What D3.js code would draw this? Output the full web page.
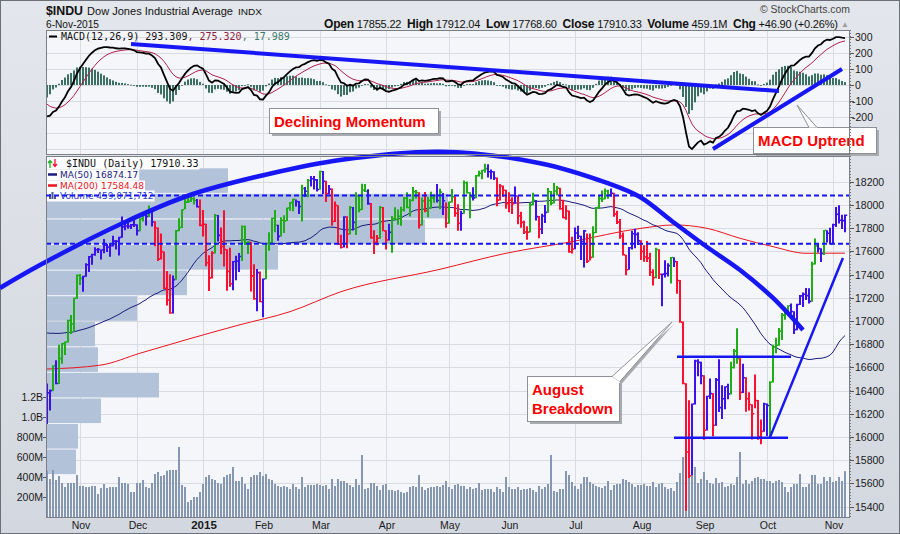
<!DOCTYPE html>
<html><head><meta charset="utf-8"><title>$INDU</title>
<script src="https://cdn.jsdelivr.net/npm/d3@7/dist/d3.min.js"></script>
<style>html,body{margin:0;padding:0;background:#dde1e7;}svg{display:block;}text{white-space:pre;}</style>
</head><body>
<svg id="chart" width="900" height="534" xmlns="http://www.w3.org/2000/svg"></svg>
<script>
// ---------- DATA ----------
// closes before the visible window (Aug 1 - Oct 16, 2014) used to warm up MA(50)/MACD
const warmupCloses = [16493,16569,16430,16443,16368,16554,16570,16561,16651,16713,16663,16839,16920,16979,17040,17001,17077,17107,17123,17080,17098,
17067,17078,17069,17138,17111,17014,17068,17049,16988,17031,17131,17156,17266,17280,17173,17056,17211,16946,17113,17071,17043,
16804,16801,17009,16991,16719,16994,16659,16544,16321,16315,16142,16117];

// visible trading days Oct 17, 2014 .. Nov 6, 2015
const closes = [
16380,16400,16615,16461,16677,16805,16818,17005,16974,17195,17391,
17366,17384,17484,17554,17573,17613,17615,17612,17652,17635,17648,17688,17686,17720,17810,17818,17815,17828,17828,
17777,17880,17913,17901,17959,17853,17801,17533,17597,17281,17180,17068,17356,17778,17805,17959,18024,18030,18053,18038,17983,17823,
17833,17501,17371,17585,17908,17737,17641,17614,17427,17320,17512,17515,17555,17814,17673,17679,17388,17191,17416,17165,
17361,17667,17673,17885,17825,17729,17868,17862,17973,18019,18047,18029,17986,18141,18117,18210,18225,18215,18133,
18288,18204,18097,18136,17857,17996,17662,17635,17896,17749,17977,17849,18076,17959,18128,18116,18011,17718,17678,17713,17977,17776,
17698,17763,17880,17875,17902,17958,18057,17977,18037,18113,18106,17826,18034,17950,18038,18058,18080,18038,18110,18035,17841,
18024,18070,17928,17842,17925,18191,18105,18068,18060,18252,18272,18298,18312,18285,18285,18232,18041,18163,18126,18011,
18040,18011,18076,17905,17849,17766,17765,18000,18039,17899,17791,17904,17935,18115,18015,18120,18144,17967,17890,17947,17596,17620,
17758,17730,17684,17776,17515,17548,17760,17977,18054,18051,18120,18086,18100,17920,17851,17732,17569,17441,17630,17751,17746,17690,
17598,17551,17541,17419,17373,17615,17402,17403,17409,17477,17546,17512,17349,16990,16460,15871,15666,16285,16655,16643,16528,
16058,16351,16374,16102,16492,16253,16330,16433,16370,16599,16740,16675,16385,16511,16330,16280,16201,16315,16001,16049,16285,
16272,16472,16777,16790,16912,17050,17084,17131,17082,16925,17142,17216,17230,17218,17169,17490,17647,17623,17582,17780,17756,17664,
17829,17919,17868,17864,17910];

const highs = [
16457,16406,16615,16658,16790,16806,16818,17005,17047,17196,17395,
17400,17384,17493,17555,17575,17630,17625,17612,17701,17659,17667,17730,17692,17720,17895,17841,17845,17830,17895,
17828,17880,17923,17914,17991,17959,17854,17801,17750,17595,17427,17399,17387,17779,17881,17959,18086,18069,18103,18061,18047,18043,
17951,17833,17562,17597,17916,17908,17800,17950,17613,17626,17512,17557,17582,17818,17815,17683,17678,17484,17443,17422,
17362,17667,17760,17885,17951,17825,17890,17906,17973,18020,18049,18041,18029,18168,18149,18219,18244,18245,18218,
18289,18288,18203,18167,18137,18024,17993,17738,17898,17897,17986,17977,18105,18071,18177,18176,18130,18011,17778,17736,17987,17977,
17776,17832,17900,17975,17955,17979,18064,18105,18046,18149,18123,18105,18059,18107,18066,18109,18083,18175,18134,18098,18017,
18025,18133,18070,18002,17946,18205,18197,18104,18148,18254,18290,18299,18351,18345,18300,18286,18232,18175,18163,18126,
18104,18061,18155,18076,17937,17858,17812,18016,18100,18038,17899,17920,17994,18140,18116,18185,18158,18144,18040,17993,17947,17722,
17800,17815,17730,17780,17748,17748,17811,17978,18076,18119,18137,18125,18137,18101,17946,17874,17757,17566,17633,17772,17790,17760,
17690,17647,17685,17584,17440,17626,17614,17404,17519,17493,17546,17545,17512,17349,16990,16460,16312,16285,16662,16666,16644,
16528,16351,16500,16374,16505,16665,16442,16434,16454,16644,16755,16933,16674,16627,16510,16381,16279,16534,16315,16147,16290,
16285,16477,16790,16850,16935,17065,17113,17131,17145,17080,17143,17220,17240,17279,17278,17506,17707,17658,17623,17780,17778,17799,
17833,17977,17992,17911,17912];

const lows = [
16117,16232,16400,16458,16462,16636,16710,16818,16891,16911,17195,
17313,17255,17385,17425,17489,17566,17590,17534,17588,17599,17557,17645,17619,17568,17720,17786,17799,17796,17814,
17740,17777,17860,17826,17899,17817,17648,17520,17534,17280,17138,17067,17068,17359,17778,17806,17966,18021,18030,18008,17982,17820,
17731,17476,17262,17371,17585,17688,17579,17474,17264,17298,17269,17354,17427,17521,17659,17581,17259,17187,17087,17165,
17037,17363,17608,17673,17768,17695,17731,17761,17865,17953,17950,17990,17925,17860,18072,18070,18162,18136,18120,
18134,18098,18030,18096,17824,17856,17660,17628,17636,17630,17748,17783,17744,17940,17960,18115,18005,17712,17580,17657,17713,17776,
17620,17698,17592,17875,17832,17824,17948,17976,17905,18036,18057,17800,17827,17940,17897,17972,18022,18025,17966,17918,17808,
17842,18024,17902,17781,17782,17927,18103,17890,18042,18062,18248,18224,18281,18240,18226,18218,17993,18041,18074,17971,
17941,17926,18014,17838,17807,17753,17704,17766,18002,17869,17716,17754,17848,17936,18000,18017,18085,17962,17890,17876,17592,17585,
17621,17710,17529,17465,17504,17526,17549,17761,17968,18028,18052,18057,18075,17901,17840,17712,17568,17399,17445,17620,17630,17658,
17529,17515,17513,17392,17309,17373,17365,17130,17379,17387,17327,17469,17239,16988,16459,15370,15651,15676,16285,16528,16460,
15980,16061,16331,16011,16102,16220,16160,16244,16330,16371,16595,16636,16324,16384,16221,16233,15982,16253,15981,15942,16049,
16013,16013,16473,16727,16790,16840,17014,17056,17067,16892,16925,17141,17124,17184,17155,17169,17491,17593,17513,17572,17681,17663,
17664,17813,17844,17797,17768];

// daily volume, millions
const volumes = [
463,380,470,370,410,340,300,340,340,340,420,
310,310,300,300,310,310,230,290,330,290,300,300,300,400,340,340,330,250,250,
340,340,370,300,290,340,430,450,410,420,463,470,470,470,700,320,300,150,170,200,200,250,
330,400,420,380,370,340,330,400,420,430,500,360,360,400,330,280,400,420,420,450,
410,430,380,370,330,310,300,310,300,280,330,300,280,400,300,320,320,320,330,
320,310,320,280,380,310,380,360,360,340,320,300,380,320,620,280,290,340,340,310,270,320,
330,270,270,260,270,250,240,250,300,310,300,420,300,270,290,300,300,310,300,320,360,
300,280,320,330,310,310,280,300,280,290,340,270,280,280,280,250,300,280,250,400,
300,280,280,300,270,280,280,290,270,250,310,280,300,330,620,260,250,280,280,460,420,350,
310,280,330,400,400,350,330,310,300,290,310,360,270,320,330,330,380,370,350,330,300,320,
320,330,310,310,350,300,330,340,300,280,290,260,350,440,600,820,600,580,500,340,380,
450,370,340,330,390,340,350,300,310,330,320,400,650,330,370,330,360,390,400,380,380,
360,360,340,360,370,350,300,250,300,330,330,430,300,300,330,420,420,330,330,400,360,400,
350,360,400,360,459];

// month tick labels and the trading-day index where each month starts
const monthLabels = ["Nov","Dec","2015","Feb","Mar","Apr","May","Jun","Jul","Aug","Sep","Oct","Nov"];
const monthStartIdx = [11,30,52,72,91,113,134,154,176,198,219,240,262];

// MA(200) at sample days
const ma200Idx = [0,18,31,48,64,81,98,131,153,175,198,209,220,231,242,253,266];
const ma200Val = [16586,16620,16722,16850,16965,17080,17252,17445,17583,17683,17798,17827,17798,17712,17640,17583,17584];

// volume-by-price zones (bottom price of each zone) and relative volume
const vbpLow = [15676,15896,16116,16337,16557,16777,16997,17218,17438,17658,17879,18099];
const vbpVol = [300,320,550,1130,520,490,910,1410,2320,3790,4020,1820];
const vbpStep = 220.2;

// axis ticks
const priceTicks = [15400,15600,15800,16000,16200,16400,16600,16800,17000,17200,17400,17600,17800,18000,18200];
const macdTicks = [300,200,100,0,-100,-200];
const volTicks = [200,400,600,800,1000,1200];
const volTickLabels = ["200M","400M","600M","800M","1.0B","1.2B"];

// annotations (data coordinates: trading-day index, value)
const arcIdx = [-15.67,-2.33,25.33,47.67,75.33,97.67,131,164.33,186.67,197.67,208.67,220,231,242,252];
const arcVal = [17284,17482,17844,18085,18275,18387,18458,18359,18189,18068,17853,17637,17439,17198,16922];
const levelsDashed = [18080,17665];
const boxTop = {i0:210,i1:248,v:16692}, boxBot = {i0:209,i1:247,v:15994};
const upTrend = {i0:241,v0:15999,i1:265.3,v1:17543};
const macdDown = {i0:28,v0:256,i1:244,v1:-37.5};
const macdUp = {i0:222,v0:-400,i1:265,v1:100};

// ---------- INDICATORS ----------
const all = warmupCloses.concat(closes);
const W = warmupCloses.length;
function ema(arr,nP){const a=2/(nP+1);let e=arr[0];return arr.map((v,k)=>{e=k===0?v:a*v+(1-a)*e;return e;});}
const e12=ema(all,12), e26=ema(all,26), e13=ema(all,13);
const macdAll=all.map((v,k)=>e12[k]-e26[k]);
const sigAll=ema(macdAll,9);
const histAll=macdAll.map((v,k)=>v-sigAll[k]);
const ma50=closes.map((c,i)=>d3.mean(all.slice(W+i-49,W+i+1)));

// ---------- LAYOUT ----------
const svg=d3.select("#chart");
const SANS='"Liberation Sans", Arial, sans-serif', VER='"DejaVu Sans", Verdana, sans-serif', MONO='"DejaVu Sans Mono", monospace';
const L=46,R=850,MT=30,MB=155,PT=156,PB=517;
const n=closes.length;
const x=d3.scaleLinear().domain([-1/3,n+2/3]).range([L,R]);
const yP=d3.scaleLinear().domain([15311,18421]).range([PB,PT]);
const yV=d3.scaleLinear().domain([0,3610]).range([PB,PT]);
const yM=d3.scaleLinear().domain([-437.5,343.75]).range([MB,MT]);
const vbpX=d3.scaleLinear().domain([0,8040]).range([0,R-L]);

const defs=svg.append("defs");
const grad=defs.append("linearGradient").attr("id","bg").attr("x1",0).attr("y1",0).attr("x2",0).attr("y2",1);
grad.append("stop").attr("offset","0%").attr("stop-color","#e3e6eb");
grad.append("stop").attr("offset","100%").attr("stop-color","#d3d7df");
defs.append("clipPath").attr("id","clipM").append("rect").attr("x",L).attr("y",MT).attr("width",R-L).attr("height",MB-MT);
defs.append("clipPath").attr("id","clipP").append("rect").attr("x",L).attr("y",PT).attr("width",R-L).attr("height",PB-PT);

svg.append("rect").attr("width",900).attr("height",534).attr("fill","url(#bg)");
svg.append("rect").attr("x",0.5).attr("y",0.5).attr("width",899).attr("height",533).attr("fill","none").attr("stroke","#6b7078");

// panels
svg.append("rect").attr("x",L).attr("y",MT).attr("width",R-L).attr("height",MB-MT).attr("fill","#f5f6fa");
svg.append("rect").attr("x",L).attr("y",PT).attr("width",R-L).attr("height",PB-PT).attr("fill","#f5f6fa");

const GRID="#d8dbe2";
const gM=svg.append("g").attr("clip-path","url(#clipM)");
gM.selectAll("line.h").data(d3.range(-400,301,100)).join("line")
  .attr("x1",L).attr("x2",R).attr("y1",d=>Math.round(yM(d))+0.5).attr("y2",d=>Math.round(yM(d))+0.5).attr("stroke",GRID);
gM.selectAll("line.v").data(monthStartIdx).join("line").attr("class","v")
  .attr("x1",d=>x(d)+0.5).attr("x2",d=>x(d)+0.5).attr("y1",MT).attr("y2",MB).attr("stroke",GRID);
const gPg=svg.append("g").attr("clip-path","url(#clipP)");
gPg.selectAll("line.h").data(priceTicks).join("line").attr("class","h")
  .attr("x1",L).attr("x2",R).attr("y1",d=>Math.round(yP(d))+0.5).attr("y2",d=>Math.round(yP(d))+0.5).attr("stroke",GRID);
gPg.selectAll("line.v").data(monthStartIdx).join("line").attr("class","v")
  .attr("x1",d=>x(d)+0.5).attr("x2",d=>x(d)+0.5).attr("y1",PT).attr("y2",PB).attr("stroke",GRID);

// ---------- MACD PANEL ----------
const gMac=svg.append("g").attr("clip-path","url(#clipM)");
gMac.selectAll("rect.h").data(closes.map((c,i)=>i)).join("rect")
  .attr("x",i=>x(i)-1).attr("width",2)
  .attr("y",i=>Math.min(yM(0),yM(histAll[W+i])))
  .attr("height",i=>Math.max(0.8,Math.abs(yM(histAll[W+i])-yM(0))))
  .attr("fill","#3a6f61");
const lineM=d3.line().x((d,i)=>x(i)).y(d=>yM(d));
gMac.append("path").attr("d",lineM(sigAll.slice(W))).attr("fill","none").attr("stroke","#b0214c").attr("stroke-width",1);
gMac.append("path").attr("d",lineM(macdAll.slice(W))).attr("fill","none").attr("stroke","#000").attr("stroke-width",1.8);

// ---------- PRICE PANEL ----------
const gPr=svg.append("g").attr("clip-path","url(#clipP)");
gPr.selectAll("rect.vbp").data(vbpVol).join("rect")
  .attr("x",L).attr("width",d=>vbpX(d))
  .attr("y",(d,k)=>yP(vbpLow[k]+vbpStep)+0.5)
  .attr("height",(d,k)=>yP(vbpLow[k])-yP(vbpLow[k]+vbpStep)-1)
  .attr("fill","#b1c2d9");
gPr.selectAll("rect.vol").data(volumes).join("rect")
  .attr("x",(d,i)=>x(i)-1).attr("width",2)
  .attr("y",d=>yV(d)).attr("height",d=>PB-yV(d)).attr("fill","#8597b1");
const ma200Line=d3.line().curve(d3.curveMonotoneX).x((d,k)=>x(ma200Idx[k])).y(d=>yP(d));
gPr.append("path").attr("d",ma200Line(ma200Val)).attr("fill","none").attr("stroke","#e8141e").attr("stroke-width",1);
gPr.append("path").attr("d",d3.line().x((d,i)=>x(i)).y(d=>yP(d))(ma50)).attr("fill","none").attr("stroke","#1b1b7c").attr("stroke-width",1);
function barColor(i){const j=W+i;const u1=e13[j]>e13[j-1],u2=histAll[j]>histAll[j-1];
  if(u1&&u2)return "#21ad18"; if(!u1&&!u2)return "#ff1030"; return "#3b12ee";}
const bars=gPr.selectAll("g.bar").data(closes.map((c,i)=>i)).join("g");
bars.append("line").attr("x1",i=>x(i)).attr("x2",i=>x(i))
  .attr("y1",i=>yP(Math.max(highs[i],closes[i]))-0.5).attr("y2",i=>yP(Math.min(lows[i],closes[i]))+0.5)
  .attr("stroke",barColor).attr("stroke-width",2);
bars.append("line").attr("x1",i=>x(i)+1).attr("x2",i=>x(i)+2.2)
  .attr("y1",i=>yP(closes[i])).attr("y2",i=>yP(closes[i]))
  .attr("stroke",barColor).attr("stroke-width",1.6);

// ---------- ANNOTATIONS ----------
const BLUE="#1717f5";
const ann=svg.append("g");
ann.selectAll("line.dl").data(levelsDashed).join("line")
  .attr("x1",L).attr("x2",R).attr("y1",d=>yP(d)).attr("y2",d=>yP(d))
  .attr("stroke",BLUE).attr("stroke-width",2).attr("stroke-dasharray","5,3");
[boxTop,boxBot].forEach(b=>ann.append("line").attr("x1",x(b.i0)).attr("x2",x(b.i1)).attr("y1",yP(b.v)).attr("y2",yP(b.v))
  .attr("stroke",BLUE).attr("stroke-width",2.5));
ann.append("line").attr("x1",x(upTrend.i0)).attr("y1",yP(upTrend.v0)).attr("x2",x(upTrend.i1)).attr("y2",yP(upTrend.v1))
  .attr("stroke",BLUE).attr("stroke-width",2.5);
ann.append("path").attr("d",d3.line().curve(d3.curveCatmullRom).x((d,k)=>x(arcIdx[k])).y(d=>yP(d))(arcVal))
  .attr("fill","none").attr("stroke",BLUE).attr("stroke-width",4.5).attr("stroke-linecap","butt");
[macdDown,macdUp].forEach(t=>ann.append("line").attr("x1",x(t.i0)).attr("y1",yM(t.v0)).attr("x2",x(t.i1)).attr("y2",yM(t.v1))
  .attr("stroke",BLUE).attr("stroke-width",4));

function callout(bx,by,bw,bh,lines,ptr){
  const g=svg.append("g");
  if(ptr){
    g.append("polygon").attr("points",ptr.map(p=>(p[0]+2)+","+(p[1]+2)).join(" ")).attr("fill","#a9abb0");
  }
  g.append("rect").attr("x",bx+3).attr("y",by+3).attr("width",bw).attr("height",bh).attr("fill","#a9abb0");
  g.append("rect").attr("x",bx+0.5).attr("y",by+0.5).attr("width",bw).attr("height",bh).attr("fill","#fff").attr("stroke","#8d9096");
  if(ptr){
    g.append("polygon").attr("points",ptr.map(p=>p.join(",")).join(" ")).attr("fill","#fff").attr("stroke","#8d9096");
    g.append("line").attr("x1",ptr[0][0]).attr("y1",ptr[0][1]+1).attr("x2",ptr[2][0]).attr("y2",ptr[2][1]+1).attr("stroke","#fff").attr("stroke-width",2);
  }
  lines.forEach((t,k)=>g.append("text").attr("x",bx+5).attr("y",by+19+k*19).attr("font-family",SANS).attr("font-weight","bold")
    .attr("font-size",15).attr("fill","#ff0000").text(t));
}
callout(269,108,169,25,["Declining Momentum"],null);
callout(527,376,92,45,["August","Breakdown"],[[612,376.5],[672,322],[619.5,382]]);
callout(753,127,123,26,["MACD Uptrend"],[[809,127.5],[797,105],[817,127.5]]);

svg.append("rect").attr("x",L+0.5).attr("y",MT+0.5).attr("width",R-L-1).attr("height",MB-MT-1).attr("fill","none").attr("stroke","#7b8088");
svg.append("rect").attr("x",L+0.5).attr("y",PT+0.5).attr("width",R-L-1).attr("height",PB-PT).attr("fill","none").attr("stroke","#7b8088");

// ---------- AXES ----------
const ax=svg.append("g").attr("font-family",SANS).attr("font-size",10.5).attr("fill","#1a1a1a");
[[MT,MB],[PT,PB]].forEach(r=>ax.append("line").attr("x1",R+0.5).attr("x2",R+0.5).attr("y1",r[0]).attr("y2",r[1])
  .attr("stroke","#777").attr("stroke-dasharray","1,2"));
ax.selectAll("text.p").data(priceTicks).join("text").attr("class","p")
  .attr("x",R+5).attr("y",d=>yP(d)+4).text(d=>d);
ax.selectAll("line.pt").data(priceTicks).join("line").attr("class","pt")
  .attr("x1",R).attr("x2",R+4).attr("y1",d=>Math.round(yP(d))+0.5).attr("y2",d=>Math.round(yP(d))+0.5).attr("stroke","#555");
ax.selectAll("text.m").data(macdTicks).join("text").attr("class","m")
  .attr("x",d=>d<0?R+2:R+5).attr("y",d=>yM(d)+4).text(d=>d);
ax.selectAll("line.mt").data(macdTicks).join("line").attr("class","mt")
  .attr("x1",R).attr("x2",R+4).attr("y1",d=>Math.round(yM(d))+0.5).attr("y2",d=>Math.round(yM(d))+0.5).attr("stroke","#555");
ax.selectAll("text.v").data(volTicks).join("text").attr("class","v").attr("text-anchor","end")
  .attr("x",L-3).attr("y",d=>yV(d)+4).text((d,k)=>volTickLabels[k]);
ax.selectAll("line.vt").data(volTicks).join("line").attr("class","vt")
  .attr("x1",L-3).attr("x2",L).attr("y1",d=>Math.round(yV(d))+0.5).attr("y2",d=>Math.round(yV(d))+0.5).attr("stroke","#555");
ax.selectAll("text.mo").data(monthLabels).join("text").attr("class","mo").attr("text-anchor","middle")
  .attr("x",(d,k)=>x(monthStartIdx[k])+1).attr("y",529)
  .attr("font-weight",d=>d==="2015"?"bold":"normal").attr("font-size",d=>d==="2015"?11.5:10.5).text(d=>d);

// ---------- HEADER ----------
function fitText(xp,yp,txt,size,bold,len,color){
  return svg.append("text").attr("x",xp).attr("y",yp).attr("font-family",SANS).attr("font-size",size)
    .attr("font-weight",bold?"bold":"normal").attr("fill",color||"#111")
    .attr("textLength",len).attr("lengthAdjust","spacingAndGlyphs").text(txt);
}
fitText(46,15,"$INDU",12.5,true,37);
fitText(87,15,"Dow Jones Industrial Average",11,false,146);
fitText(238,15,"INDX",9.5,false,24);
fitText(46,27.5,"6-Nov-2015",10,false,53);
fitText(760,12.5,"\u00A9 StockCharts.com",10,false,90,"#444");
const hdr=svg.append("text").attr("x",324).attr("y",27.5).attr("font-family",SANS).attr("fill","#111")
  .attr("textLength",514).attr("lengthAdjust","spacing");
[["Open",1],[" 17855.22  ",0],["High",1],[" 17912.04  ",0],["Low",1],[" 17768.60  ",0],["Close",1],[" 17910.33  ",0],
 ["Volume",1],[" 459.1M  ",0],["Chg",1],[" +46.90 (+0.26%)",0]].forEach(p=>
  hdr.append("tspan").attr("font-weight",p[1]?"bold":"normal").attr("font-size",p[1]?12:11).text(p[0]));
svg.append("text").attr("x",841).attr("y",27).attr("font-family",SANS).attr("font-size",8).attr("fill","#9a9ea6").text("\u25B2");

// ---------- LEGENDS ----------
svg.append("line").attr("x1",49).attr("x2",57).attr("y1",36.5).attr("y2",36.5).attr("stroke","#000").attr("stroke-width",2);
const ml=svg.append("text").attr("x",61).attr("y",40).attr("font-family",MONO).attr("font-size",10);
ml.append("tspan").attr("fill","#111").text("MACD(12,26,9) 293.309");
ml.append("tspan").attr("fill","#8e1b3f").text(", 275.320");
ml.append("tspan").attr("fill","#3d7a6a").text(", 17.989");

function legendRow(y,txt,color,font,size,icon){
  const t=svg.append("text").attr("x",60).attr("y",y).attr("font-family",font).attr("font-size",size).attr("fill",color).text(txt);
  const w=t.node().getComputedTextLength();
  svg.insert("rect",()=>t.node()).attr("x",L+1).attr("y",y-size+0.5).attr("width",60+w-L).attr("height",size+2).attr("fill","#fdfdfe");
  icon();
  return t;
}
legendRow(167,"\u00A0$INDU (Daily) 17910.33","#111",MONO,10,()=>{
  svg.append("path").attr("d","M50,168 L50,161 M48,163 L50,160.5 L52,163").attr("stroke","#21ad18").attr("stroke-width",1.3).attr("fill","none");
  svg.append("path").attr("d","M55,159 L55,166 M53,164 L55,166.5 L57,164").attr("stroke","#ff1030").attr("stroke-width",1.3).attr("fill","none");
});
legendRow(178,"MA(50) 16874.17","#1b1b7c",VER,9,()=>{
  svg.append("line").attr("x1",48).attr("x2",57).attr("y1",174.5).attr("y2",174.5).attr("stroke","#1b1b7c").attr("stroke-width",2.5);});
legendRow(189,"MA(200) 17584.48","#e8141e",VER,9,()=>{
  svg.append("line").attr("x1",48).attr("x2",57).attr("y1",185.5).attr("y2",185.5).attr("stroke","#e8141e").attr("stroke-width",2.5);});
legendRow(199,"Volume 459,071,712","#2a3ec4",VER,9,()=>{
  [[49,194,5],[51.5,192,7],[54,195,4]].forEach(b=>svg.append("rect").attr("x",b[0]).attr("y",b[1]).attr("width",2).attr("height",b[2]).attr("fill","#4a5a80"));});
svg.append("line").attr("x1",L).attr("x2",160).attr("y1",yP(levelsDashed[0])).attr("y2",yP(levelsDashed[0]))
  .attr("stroke",BLUE).attr("stroke-width",2).attr("stroke-dasharray","5,3");
</script>
</body></html>
